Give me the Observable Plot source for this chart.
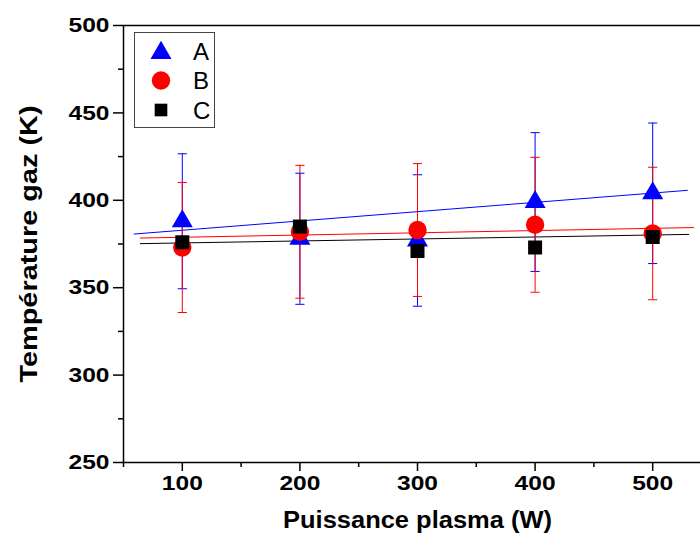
<!DOCTYPE html>
<html><head><meta charset="utf-8">
<script src="https://cdn.jsdelivr.net/npm/d3@7"></script>
<script src="https://cdn.jsdelivr.net/npm/@observablehq/plot@0.6"></script>
<style>
html,body{margin:0;padding:0;background:#fff;}
#wrap{position:relative;width:700px;height:547px;overflow:hidden;}
#legend{position:absolute;left:134px;top:32px;}
</style></head><body><div id="wrap"></div>
<script>
// Data
const power = [100, 200, 300, 400, 500];
const tempA = [388, 378, 377, 399, 404];
const errA  = [38.6, 37.5, 37.6, 39.7, 40.2];
const tempB = [373, 382, 383, 386, 381];
const errB  = [37.2, 38, 38, 38.6, 37.9];
const tempC = [376, 385, 371, 373, 379];
const seriesNames = ["A", "B", "C"];
const seriesColors = ["#0000ff", "#ff0000", "#000000"];
// linear fit lines (end points)
const fitXA = [59, 529.5],  fitYA = [380.7, 405.7];
const fitXB = [64.3, 534.8], fitYB = [378.4, 384.4];
const fitXC = [64.3, 530.6], fitYC = [375.2, 380.5];
// ticks
const xMajor = [100, 200, 300, 400, 500];
const xMinor = [50, 150, 250, 350, 450, 550];
const yMajor = [250, 300, 350, 400, 450, 500];
const yMinor = [275, 325, 375, 425, 475];
const xLabel = "Puissance plasma (W)";
const yLabel = "Température gaz (K)";

const font = "'Liberation Sans', Arial, sans-serif";
const rowsA = power.map((x, i) => ({x, y: tempA[i], e: errA[i]}));
const rowsB = power.map((x, i) => ({x, y: tempB[i], e: errB[i]}));
const rowsC = power.map((x, i) => ({x, y: tempC[i]}));
const fitRows = (xs, ys) => xs.map((x, i) => ({x, y: ys[i]}));

const capSymbol = {draw(ctx, size) { const w = Math.sqrt(size / Math.PI); ctx.moveTo(-w, 0); ctx.lineTo(w, 0); }};

function errMarks(rows, color) {
  return [
    Plot.ruleX(rows, {x: "x", y1: d => d.y - d.e, y2: d => d.y + d.e, stroke: color, strokeWidth: 1}),
    Plot.dot(rows, {x: "x", y: d => d.y + d.e, symbol: capSymbol, r: 4.6, stroke: color, fill: "none", strokeWidth: 1}),
    Plot.dot(rows, {x: "x", y: d => d.y - d.e, symbol: capSymbol, r: 4.6, stroke: color, fill: "none", strokeWidth: 1})
  ];
}

const chart = Plot.plot({
  width: 711, height: 547,
  marginLeft: 123, marginRight: 0, marginTop: 25, marginBottom: 85,
  style: {fontFamily: font, background: "white", color: "black", maxWidth: "none"},
  x: {domain: [50, 550]},
  y: {domain: [250, 500]},
  marks: [
    Plot.line(fitRows(fitXA, fitYA), {x: "x", y: "y", stroke: seriesColors[0], strokeWidth: 1}),
    Plot.line(fitRows(fitXB, fitYB), {x: "x", y: "y", stroke: seriesColors[1], strokeWidth: 1}),
    Plot.line(fitRows(fitXC, fitYC), {x: "x", y: "y", stroke: seriesColors[2], strokeWidth: 1}),
    ...errMarks(rowsA, seriesColors[0]),
    ...errMarks(rowsB, seriesColors[1]),
    Plot.dot(rowsA, {x: "x", y: "y", symbol: "triangle", r: 7.8, fill: seriesColors[0], stroke: "none"}),
    Plot.dot(rowsB, {x: "x", y: "y", symbol: "circle", r: 9.2, fill: seriesColors[1], stroke: "none"}),
    Plot.dot(rowsC, {x: "x", y: "y", symbol: "square", r: 7.9, fill: seriesColors[2], stroke: "none"}),
    Plot.frame({stroke: "black", strokeWidth: 1.5}),
    Plot.axisX(xMajor, {label: null, tickSize: 9, tickPadding: 4, fontSize: 21, fontWeight: "bold", fontFamily: font, strokeWidth: 1.5}),
    Plot.axisX(xMinor, {label: null, tickSize: 5, tickFormat: () => "", strokeWidth: 1.5}),
    Plot.axisY(yMajor, {label: null, tickSize: 10, tickPadding: 4, fontSize: 21, fontWeight: "bold", fontFamily: font, strokeWidth: 1.5}),
    Plot.axisY(yMinor, {label: null, tickSize: 5, tickFormat: () => "", strokeWidth: 1.5}),
    Plot.text([xLabel], {text: d => d, frameAnchor: "bottom", dy: 65, textAnchor: "middle", fontSize: 23, fontWeight: "bold", fontFamily: font, fill: "black"}),
    Plot.text([yLabel], {text: d => d, frameAnchor: "left", dx: -94, rotate: -90, textAnchor: "middle", fontSize: 23, fontWeight: "bold", fontFamily: font, fill: "black"})
  ]
});
chart.style.maxWidth = "none";
const wrap = document.getElementById("wrap");
wrap.appendChild(chart);

// widen the text as in the reference rendering
d3.select(chart).selectAll("text").each(function() {
  const t = this.textContent;
  if (/^\d{3}$/.test(t)) this.setAttribute("textLength", 41);
  else if (t === xLabel) this.setAttribute("textLength", 269);
  else if (t === yLabel) this.setAttribute("textLength", 277);
  if (this.hasAttribute("textLength")) this.setAttribute("lengthAdjust", "spacingAndGlyphs");
});

// Legend (boxed, inside plot area)
const lw = 80, lh = 95;
const leg = d3.select(wrap).append("svg").attr("id", "legend").attr("width", lw + 1).attr("height", lh + 1);
leg.append("rect").attr("x", 0.5).attr("y", 0.5).attr("width", lw).attr("height", lh)
  .attr("fill", "white").attr("stroke", "#444").attr("stroke-width", 1);
const legSymbols = [d3.symbolTriangle, d3.symbolCircle, d3.symbolSquare];
const legSizes = [191, 266, 160];
const legY = [19, 48.5, 78];
seriesNames.forEach((name, i) => {
  leg.append("path").attr("d", d3.symbol(legSymbols[i], legSizes[i])())
    .attr("transform", `translate(27,${legY[i] + (i === 0 ? 2 : 0)})`).attr("fill", seriesColors[i]);
  leg.append("text").attr("x", 59).attr("y", legY[i]).attr("dy", "0.36em")
    .attr("font-family", font).attr("font-size", 24).text(name);
});
</script></body></html>
